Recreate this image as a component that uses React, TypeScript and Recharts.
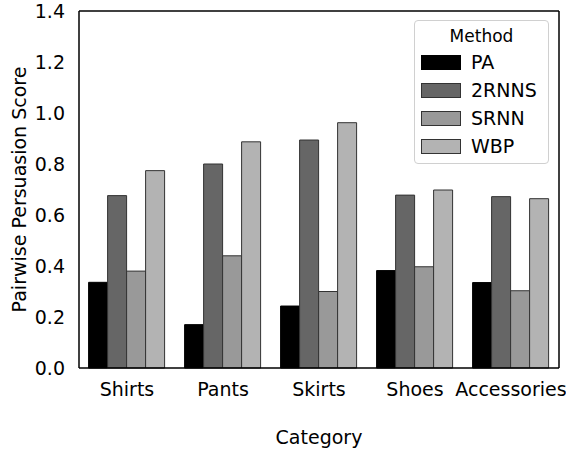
import { BarChart, Bar, XAxis, YAxis } from 'recharts'

const categories = ['Shirts', 'Pants', 'Skirts', 'Shoes', 'Accessories']
const methods = ['PA', '2RNNS', 'SRNN', 'WBP']
const pa = [0.336, 0.17, 0.243, 0.382, 0.335]
const rnns2 = [0.676, 0.8, 0.894, 0.678, 0.672]
const srnn = [0.38, 0.44, 0.3, 0.397, 0.303]
const wbp = [0.774, 0.887, 0.962, 0.698, 0.664]
const yTicks = [0, 0.2, 0.4, 0.6, 0.8, 1.0, 1.2, 1.4]

const colors = ['#000000', '#666666', '#999999', '#b3b3b3']
const edge = '#333333'
const font = '"DejaVu Sans", sans-serif'

const data = categories.map((c, i) => ({
  cat: c,
  PA: pa[i],
  '2RNNS': rnns2[i],
  SRNN: srnn[i],
  WBP: wbp[i],
}))

function MethodLegend() {
  return (
    <div
      style={{
        position: 'absolute',
        left: 414,
        top: 20,
        width: 135,
        height: 144,
        border: '1px solid #d0d0d0',
        borderRadius: 4,
        background: '#fff',
        fontFamily: font,
        fontSize: 17,
        color: '#000',
        boxSizing: 'border-box',
      }}
    >
      <div style={{ textAlign: 'center', marginTop: 3, height: 24, lineHeight: '24px' }}>Method</div>
      {methods.map((m, i) => (
        <div key={m} style={{ display: 'flex', alignItems: 'center', height: 28 }}>
          <div
            style={{
              width: 38,
              height: 13,
              marginLeft: 6,
              background: colors[i],
              border: `1px solid ${i === 0 ? '#000' : edge}`,
            }}
          />
          <span style={{ marginLeft: 10, fontSize: 19 }}>{m}</span>
        </div>
      ))}
    </div>
  )
}

export default function App() {
  const tick = { fill: '#000', fontSize: 19, fontFamily: font }
  const spine = { stroke: '#000', strokeWidth: 1.5 }
  return (
    <div style={{ position: 'absolute', left: 0, top: 0, width: 566, height: 453, background: '#fff' }}>
      <BarChart
        width={566}
        height={453}
        data={data}
        margin={{ top: 10, right: 6, left: 0, bottom: 0 }}
        barCategoryGap="10%"
        barGap={0}
      >
        <XAxis
          dataKey="cat"
          tick={tick}
          tickLine={false}
          axisLine={spine}
          height={85}
          tickMargin={9}
          interval={0}
          label={{
            value: 'Category',
            position: 'insideBottom',
            offset: 9,
            style: { fill: '#000', fontSize: 19, fontFamily: font },
          }}
        />
        <XAxis
          xAxisId="top"
          dataKey="cat"
          orientation="top"
          height={1}
          tick={false}
          tickLine={false}
          axisLine={spine}
        />
        <YAxis
          domain={[0, 1.4]}
          ticks={yTicks}
          tickFormatter={(v: number) => v.toFixed(1)}
          tick={tick}
          tickLine={false}
          axisLine={spine}
          width={79}
          tickMargin={8}
          label={{
            value: 'Pairwise Persuasion Score',
            angle: -90,
            position: 'insideLeft',
            offset: 19,
            style: { fill: '#000', fontSize: 19, fontFamily: font, textAnchor: 'middle' },
          }}
        />
        <YAxis
          yAxisId="right"
          orientation="right"
          domain={[0, 1.4]}
          width={1}
          tick={false}
          tickLine={false}
          axisLine={spine}
        />
        {methods.map((m, i) => (
          <Bar
            key={m}
            dataKey={m}
            fill={colors[i]}
            stroke={i === 0 ? '#000' : edge}
            strokeWidth={1}
            isAnimationActive={false}
          />
        ))}
      </BarChart>
      <MethodLegend />
    </div>
  )
}
